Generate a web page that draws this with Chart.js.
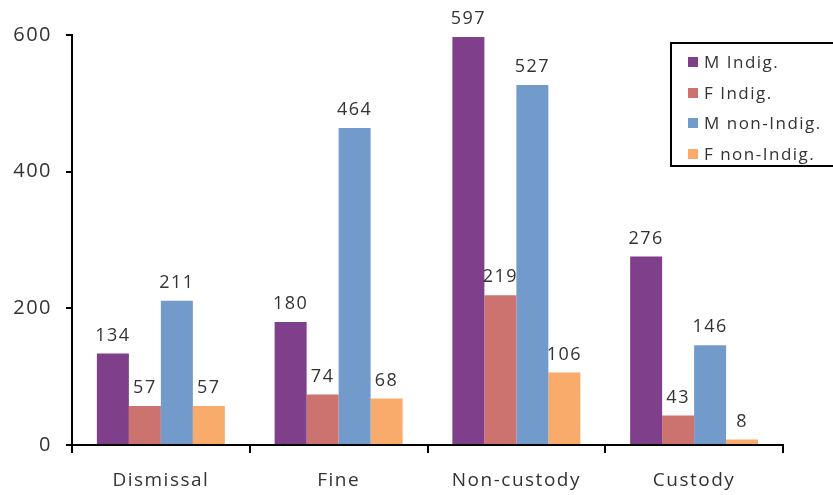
<!DOCTYPE html>
<html>
<head>
<meta charset="utf-8">
<script src="https://cdn.jsdelivr.net/npm/chart.js@4"></script>
<style>
    body { margin: 0; background: #fff; overflow: hidden; }
    #wrap { position: relative; width: 833px; height: 495px; }
    #legend {
        position: absolute; left: 670px; top: 42px; width: 170px; height: 125px;
        border: 2px solid #000; box-sizing: border-box; padding-top: 3px;
        font-family: "Open Sans", sans-serif; font-size: 17px; color: #333; letter-spacing: 1.5px;
    }
    #legend div { height: 30.5px; line-height: 30px; padding-left: 16px; white-space: nowrap; }
    #legend span { display: inline-block; width: 10px; height: 10px; margin-right: 6px; vertical-align: 1px; }
</style>
</head>
<body>
<div id="wrap">
    <canvas id="sentenceChart" width="833" height="495"></canvas>
    <div id="legend"></div>
</div>
<script>
const categories = ["Dismissal", "Fine", "Non-custody", "Custody"];
const seriesNames = ["M Indig.", "F Indig.", "M non-Indig.", "F non-Indig."];
const seriesColors = ["#7f3f8b", "#cc736f", "#729bcc", "#f8ab6b"];
const mIndig = [134, 180, 597, 276];
const fIndig = [57, 74, 219, 43];
const mNonIndig = [211, 464, 527, 146];
const fNonIndig = [57, 68, 106, 8];
const yTicks = [0, 200, 400, 600];

const seriesValues = [mIndig, fIndig, mNonIndig, fNonIndig];

// draw the number above each bar
const barLabels = {
    id: 'barLabels',
    beforeDraw(chart) {
        chart.ctx.letterSpacing = '1.5px';
    },
    afterDatasetsDraw(chart) {
        var ctx = chart.ctx;
        ctx.save();
        ctx.font = '18px "Open Sans", sans-serif';
        ctx.fillStyle = '#333';
        ctx.textAlign = 'center';
        ctx.textBaseline = 'middle';
        chart.data.datasets.forEach((dataset, i) => {
            chart.getDatasetMeta(i).data.forEach((bar, j) => {
                ctx.fillText(dataset.data[j], bar.x, bar.y - 18);
            });
        });
        ctx.restore();
    }
};

var ctx = document.getElementById("sentenceChart").getContext("2d");
var sentenceChart = new Chart(ctx, {
    type: 'bar',
    data: {
        labels: categories,
        datasets: seriesNames.map((name, i) => ({
            label: name,
            data: seriesValues[i],
            backgroundColor: seriesColors[i],
            categoryPercentage: 0.72,
            barPercentage: 1.0
        }))
    },
    options: {
        responsive: false,
        animation: false,
        layout: { padding: { top: 35, right: 50 } },
        scales: {
            x: {
                grid: { drawOnChartArea: false, color: '#000', lineWidth: 2, tickLength: 8 },
                border: { color: '#000', width: 2 },
                ticks: { color: '#333', font: { family: 'Open Sans', size: 19 }, padding: 16 },
                afterFit: scale => { scale.height = 50; }
            },
            y: {
                min: 0,
                max: 600,
                afterBuildTicks: scale => { scale.ticks = yTicks.map(v => ({ value: v })); },
                grid: { drawOnChartArea: false, color: '#000', lineWidth: 2, tickLength: 6 },
                border: { color: '#000', width: 2 },
                ticks: { color: '#333', font: { family: 'Open Sans', size: 20 }, padding: 14 },
                afterFit: scale => { scale.width = 72; }
            }
        },
        plugins: {
            legend: { display: false },
            tooltip: { enabled: false }
        }
    },
    plugins: [barLabels]
});

// legend box inside the plot
var legendBox = document.getElementById("legend");
sentenceChart.data.datasets.forEach(dataset => {
    var row = document.createElement("div");
    row.innerHTML = '<span style="background:' + dataset.backgroundColor + '"></span>' + dataset.label;
    legendBox.appendChild(row);
});
</script>
</body>
</html>
